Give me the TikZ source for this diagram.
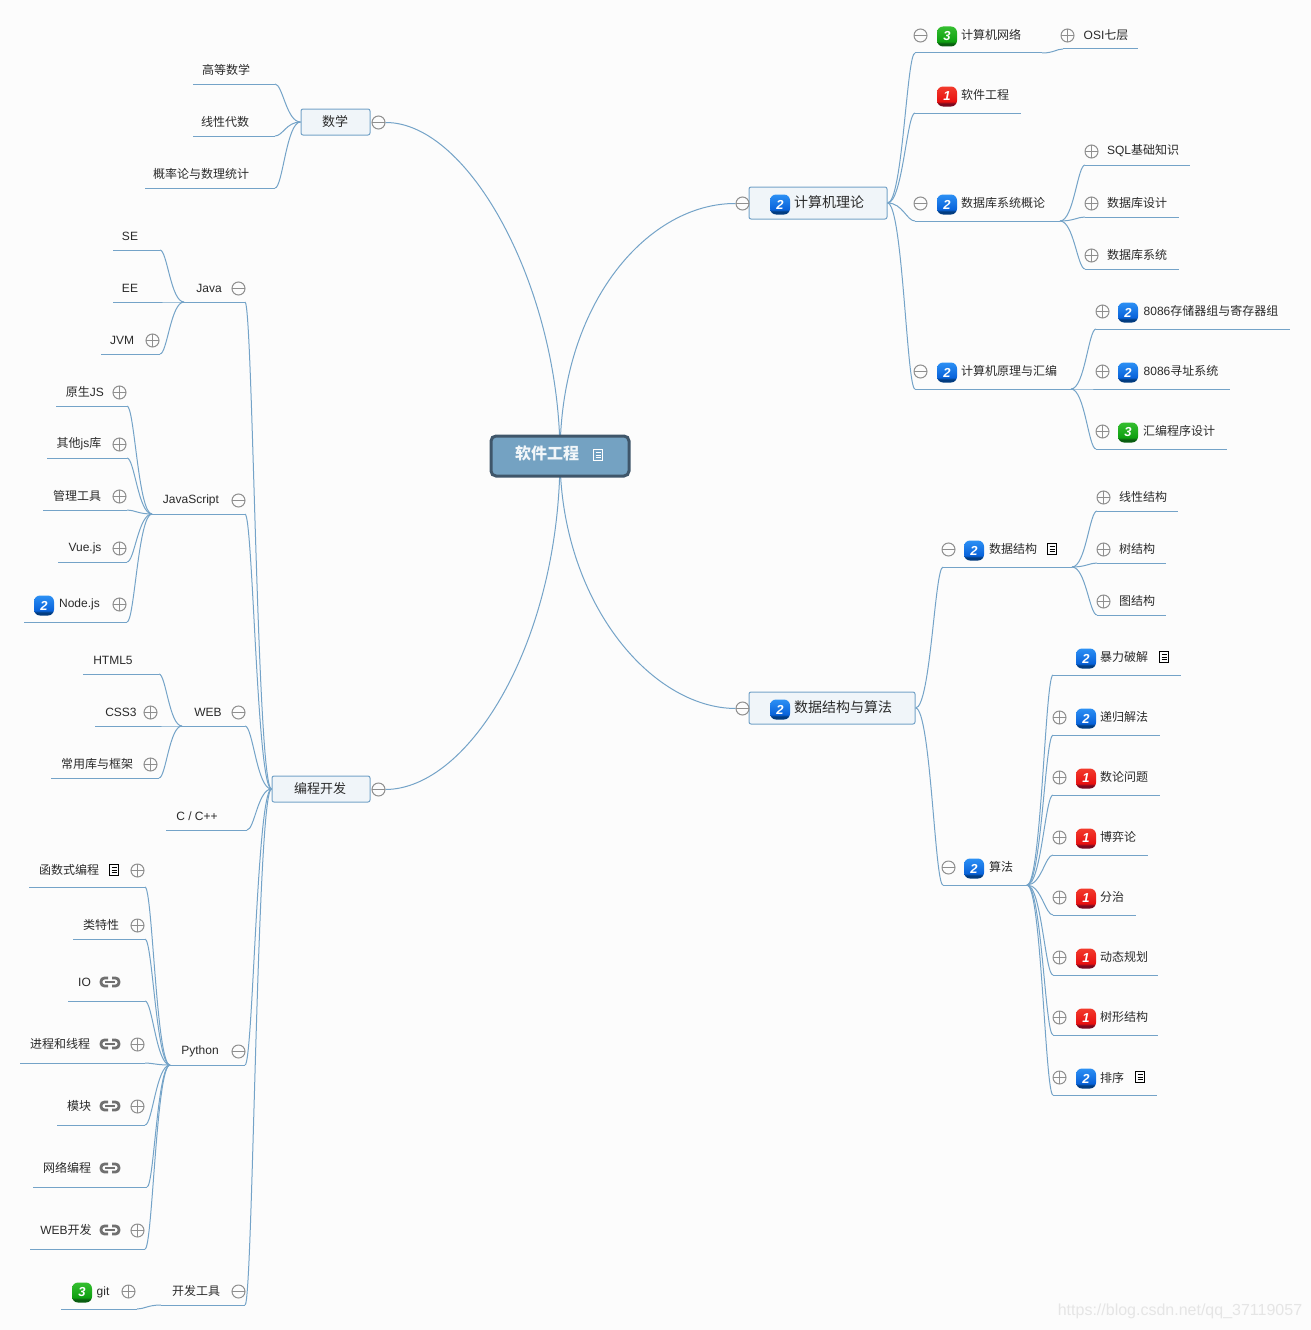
\documentclass[tikz,border=0pt]{standalone}
\usepackage{fontspec}
\setmainfont{Noto Sans CJK SC}
\newfontfamily\numfont{Liberation Sans}
\newcommand\latn[1]{{\numfont #1}}
\usetikzlibrary{calc, backgrounds}

\definecolor{pagebg}{HTML}{FCFCFC}
\definecolor{branchc}{HTML}{74A3C8}
\definecolor{rootfill}{HTML}{74A2C2}
\definecolor{rootedge}{HTML}{3F566A}
\definecolor{topicfill}{HTML}{F0F5F9}
\definecolor{markc}{HTML}{8F8F8F}
\definecolor{linkc}{HTML}{707070}
\definecolor{labelc}{HTML}{2A2A2A}
\definecolor{markc1a}{HTML}{F23A2C}
\definecolor{markc1b}{HTML}{E81010}
\definecolor{markc1c}{HTML}{7A0A20}
\definecolor{markc2a}{HTML}{2C90F4}
\definecolor{markc2b}{HTML}{0862DA}
\definecolor{markc2c}{HTML}{023C80}
\definecolor{markc3a}{HTML}{35BE30}
\definecolor{markc3b}{HTML}{0EA010}
\definecolor{markc3c}{HTML}{0A5E10}

% Glossy badge: dark strip at the foot, bright body above it
\pgfdeclareverticalshading{badge1shade}{100bp}{color(0bp)=(markc1c); color(33bp)=(markc1c); color(37bp)=(markc1b); color(75bp)=(markc1a); color(100bp)=(markc1a)}
\pgfdeclareverticalshading{badge2shade}{100bp}{color(0bp)=(markc2c); color(33bp)=(markc2c); color(37bp)=(markc2b); color(75bp)=(markc2a); color(100bp)=(markc2a)}
\pgfdeclareverticalshading{badge3shade}{100bp}{color(0bp)=(markc3c); color(33bp)=(markc3c); color(37bp)=(markc3b); color(75bp)=(markc3a); color(100bp)=(markc3a)}

\tikzset{
  lab/.style={font=\fontsize{12}{12}\selectfont, text=labelc, inner sep=0pt, yshift=-1pt},
  topiclab/.style={font=\fontsize{14}{14}\selectfont, text=labelc, inner sep=0pt, yshift=-0.5pt},
  smalltopiclab/.style={font=\fontsize{13}{13}\selectfont, text=labelc, inner sep=0pt, yshift=-0.5pt},
  rootlab/.style={font=\fontsize{16}{16}\selectfont\bfseries, text=white!90!rootfill, inner sep=0pt},
  rootbox/.style={draw=rootedge, fill=rootfill, line width=3pt, rounded corners=5pt,
    minimum width=138pt, minimum height=40pt, inner sep=0pt},
  topicbox/.style={draw=branchc, fill=topicfill, line width=1pt, rounded corners=2pt, inner sep=0pt},
  uline/.style={draw=branchc, line width=1pt},
  branch/.style={draw=branchc, line width=1pt},
  plusmark/.style={circle, draw=markc, fill=pagebg, line width=1pt, minimum size=13pt, inner sep=0pt,
    xshift=0.5pt, yshift=-0.5pt,
    path picture={\draw[markc, line width=1pt]
      (path picture bounding box.west) -- (path picture bounding box.east)
      (path picture bounding box.north) -- (path picture bounding box.south);}},
  minusmark/.style={circle, draw=markc, fill=pagebg, line width=1pt, minimum size=13pt, inner sep=0pt,
    xshift=0.5pt, yshift=-0.5pt,
    path picture={\draw[markc, line width=1pt]
      (path picture bounding box.west) -- (path picture bounding box.east);}},
  badge/.style={shading=badge#1shade, rounded corners=6pt, yshift=-0.5pt,
    minimum size=20pt, inner sep=0pt, text=white, font=\numfont\fontsize{13}{13}\selectfont\bfseries\itshape},
  noteicon/.pic={
    \draw[#1, line width=1pt] (-4.5,-5.5) rectangle (4.5,5.5);
    \draw[#1, line width=1pt] (-2.5,-2.5) -- (2.5,-2.5) (-2.5,0) -- (2.5,0) (-2.5,2.5) -- (2.5,2.5);
  },
  noteicon/.default=black,
  linkicon/.pic={
    \draw[linkc, line width=2.8pt, rounded corners=3.5pt] (-2,-4) -- (-9,-4) -- (-9,4) -- (-2,4);
    \draw[linkc, line width=2.8pt, rounded corners=3.5pt] (2,-4) -- (9,-4) -- (9,4) -- (2,4);
    \draw[linkc, line width=2.4pt] (-5,0) -- (5,0);
  },
}

\begin{document}
\begin{tikzpicture}[x=1pt, y=-1pt]
\useasboundingbox (0,0) rectangle (1311,1330);

%% ---- CENTRE AND MAIN TOPICS -------------------------
\node[rootbox] (root) at (560,456) {};
\node[rootlab] (rootname) at (547,453) {软件工程};
\pic at (598,455) {noteicon=white};

\node[topicbox, minimum width=138pt, minimum height=32pt] (cs) at (818,203) {};
\node[topicbox, minimum width=166pt, minimum height=32pt] (dsa) at (832,708) {};
\node[topicbox, minimum width=69pt, minimum height=26pt] (math) at (335.5,122) {};
\node[topicbox, minimum width=98pt, minimum height=26pt] (dev) at (321,789) {};
\node[topiclab] (csname) at (829,202) {计算机理论};
\node[topiclab] (dsaname) at (843,707) {数据结构与算法};
\node[smalltopiclab] (mathname) at (335,121) {数学};
\node[smalltopiclab] (devname) at (320,788) {编程开发};

%% ---- UNDERLINED ITEMS: name/left/right/line/text x/text y/label -------------------------
\foreach \nm/\xa/\xb/\yy/\tx/\ty/\lab in {
  % computer theory
  net/915/1042/53/991/34/计算机网络,
  osi/1063/1138/49/1106/34/{\latn{OSI}七层},
  soft/915/1021/113/985/94/软件工程,
  db/915/1060/221/1003/202/数据库系统概论,
  sql/1085/1190/165/1143/150/{\latn{SQL}基础知识},
  dbd/1085/1179/217/1137/202/数据库设计,
  dbs/1085/1179/269/1137/254/数据库系统,
  asm/915/1071/389/1009/370/计算机原理与汇编,
  reg/1096/1290/329/1211/310/{\latn{8086}存储器组与寄存器组},
  addr/1096/1230/389/1181/370/{\latn{8086}寻址系统},
  prog/1096/1227/449/1179/430/汇编程序设计,
  % data structures and algorithms
  ds/943/1072/567/1013/548/数据结构,
  lin/1097/1178/511/1143/496/线性结构,
  tree/1097/1166/563/1137/548/树结构,
  graph/1097/1166/615/1137/600/图结构,
  algo/943/1027/885/1001/866/算法,
  brute/1053/1181/675/1124/656/暴力破解,
  rec/1053/1160/735/1124/716/递归解法,
  num/1053/1160/795/1124/776/数论问题,
  game/1053/1148/855/1118/836/博弈论,
  divide/1053/1136/915/1112/896/分治,
  dp/1053/1158/975/1124/956/动态规划,
  tshape/1053/1158/1035/1124/1016/树形结构,
  sort/1053/1157/1095/1112/1077/排序,
  % mathematics
  calc/193/275/84/226/69/高等数学,
  alg/193/275/136/225/121/线性代数,
  prob/145/275/188/201/173/概率论与数理统计,
  % java
  java/184/245/302/209/287/\latn{Java},
  se/113/160/250/130/235/\latn{SE},
  ee/113/160/302/130/287/\latn{EE},
  jvm/101/160/354/122/339/\latn{JVM},
  % javascript
  js/152/245/514/191/499/\latn{JavaScript},
  rawjs/56/127/406/85/391/{原生\latn{JS}},
  jslib/47/127/458/79/443/{其他\latn{js}库},
  tools/43/127/510/77/495/管理工具,
  vue/58/127/562/85/547/\latn{Vue.js},
  nodejs/24/127/622/79.5/603/\latn{Node.js},
  % web
  web/182/245/726/208/711/\latn{WEB},
  html/83/159/674/113/659/\latn{HTML5},
  css/95/159/726/121/711/\latn{CSS3},
  frame/51/159/778/97/763/常用库与框架,
  cpp/166/247/830/197/815/\latn{C / C++},
  % python
  py/170/245/1065/200/1050/\latn{Python},
  func/29/145/887/69/869/函数式编程,
  cls/73/145/939/101/924/类特性,
  io/68/145/1001/84.5/981/\latn{IO},
  proc/20/145/1063/60/1043/进程和线程,
  mod/57/145/1125/79/1105/模块,
  sock/33/147/1187/67/1167/网络编程,
  webdev/30/145/1249/66/1229/{\latn{WEB}开发},
  % tools
  devt/161/245/1305/196/1290/开发工具,
  git/61/137/1309/103/1291/\latn{git}} {
  \coordinate (\nm-l) at (\xa,\yy);
  \coordinate (\nm-r) at (\xb,\yy);
  \draw[uline] (\nm-l) -- (\nm-r);
  \node[lab] (\nm-t) at (\tx,\ty) {\lab};
}

%% ---- COLLAPSE MARKS -------------------------
\foreach \nm/\x/\y in {csm/742/203, dsam/742/708, mathm/378/122, devm/378/789,
  netm/920/35, dbm/920/203, asmm/920/371, dsm/948/549, algom/948/867,
  javam/238/288, jsm/238/500, webm/238/712, pym/238/1051, devtm/238/1291} {
  \node[minusmark] (\nm) at (\x,\y) {};
}
\foreach \nm/\x/\y in {osip/1067/35, sqlp/1091/151, dbdp/1091/203, dbsp/1091/255,
  regp/1102/311, addrp/1102/371, progp/1102/431, linp/1103/497, treep/1103/549, graphp/1103/601,
  recp/1059/717, nump/1059/777, gamep/1059/837, divp/1059/897, dpp/1059/957, tsp/1059/1017, sortp/1059/1077,
  jvmp/152/340, rawp/119/392, libp/119/444, toolp/119/496, vuep/119/548, nodep/119/604,
  cssp/150/712, framep/150/764,
  funcp/137/870, clsp/137/925, procp/137/1044, modp/137/1106, webdp/137/1230, gitp/128/1291} {
  \node[plusmark] (\nm) at (\x,\y) {};
}

%% ---- PRIORITY BADGES: name/x/y/number -------------------------
\foreach \nm/\x/\y/\n in {csb/780/204/2, dsab/780/709/2, netb/947/36/3, softb/947/96/1, dbb/947/204/2, asmb/947/372/2,
  regb/1128/312/2, addrb/1128/372/2, progb/1128/432/3, dsb/974/550/2, algob/974/868/2,
  bruteb/1086/658/2, recb/1086/718/2, numb/1086/778/1, gameb/1086/838/1, divb/1086/898/1, dpb/1086/958/1,
  tsb/1086/1018/1, sortb/1086/1078/2, nodeb/44/605/2, gitb/82/1292/3} {
  \node[badge=\n] (\nm) at (\x,\y) {\n};
}

% Note and link icons
\foreach \x/\y in {1052/549, 1164/657, 1140/1077, 114/870} {
  \pic at (\x,\y) {noteicon};
}
\foreach \x/\y in {110/982, 110/1044, 110/1106, 110/1168, 110/1230} {
  \pic at (\x,\y) {linkicon};
}

\node[font=\numfont\fontsize{16}{16}\selectfont, text=black!10, inner sep=0pt] (mark) at (1180,1311)
  {https://blog.csdn.net/qq\_37119057};

%% ---- CONNECTORS, behind everything -------------------------
\begin{pgfonlayer}{background}
  \fill[pagebg] (0,0) rectangle (1311,1330);

  \draw[branch] (root.center) .. controls (560,300) and (650,203) .. (csm.west);
  \draw[branch] (root.center) .. controls (560,600) and (650,708) .. (dsam.west);
  \draw[branch] (root.center) .. controls (560,290) and (470,122) .. (mathm.east);
  \draw[branch] (root.center) .. controls (560,640) and (470,789) .. (devm.east);

  \foreach \a/\b in {cs.east/net-l, cs.east/soft-l, cs.east/db-l, cs.east/asm-l, net-r/osi-l,
    db-r/sql-l, db-r/dbd-l, db-r/dbs-l, asm-r/reg-l, asm-r/addr-l, asm-r/prog-l,
    dsa.east/ds-l, dsa.east/algo-l, ds-r/lin-l, ds-r/tree-l, ds-r/graph-l,
    algo-r/brute-l, algo-r/rec-l, algo-r/num-l, algo-r/game-l, algo-r/divide-l, algo-r/dp-l, algo-r/tshape-l, algo-r/sort-l,
    math.west/calc-r, math.west/alg-r, math.west/prob-r,
    dev.west/java-r, dev.west/js-r, dev.west/web-r, dev.west/cpp-r, dev.west/py-r, dev.west/devt-r,
    java-l/se-r, java-l/ee-r, java-l/jvm-r,
    js-l/rawjs-r, js-l/jslib-r, js-l/tools-r, js-l/vue-r, js-l/nodejs-r,
    web-l/html-r, web-l/css-r, web-l/frame-r,
    py-l/func-r, py-l/cls-r, py-l/io-r, py-l/proc-r, py-l/mod-r, py-l/sock-r, py-l/webdev-r,
    devt-l/git-r} {
    \draw[branch] let \p1=(\a), \p2=(\b) in (\p1)
      .. controls ({\x1+.55*(\x2-\x1)},{\y1}) and ({\x1+.7*(\x2-\x1)},{\y2}) .. (\p2);
  }
\end{pgfonlayer}

\end{tikzpicture}
\end{document}
